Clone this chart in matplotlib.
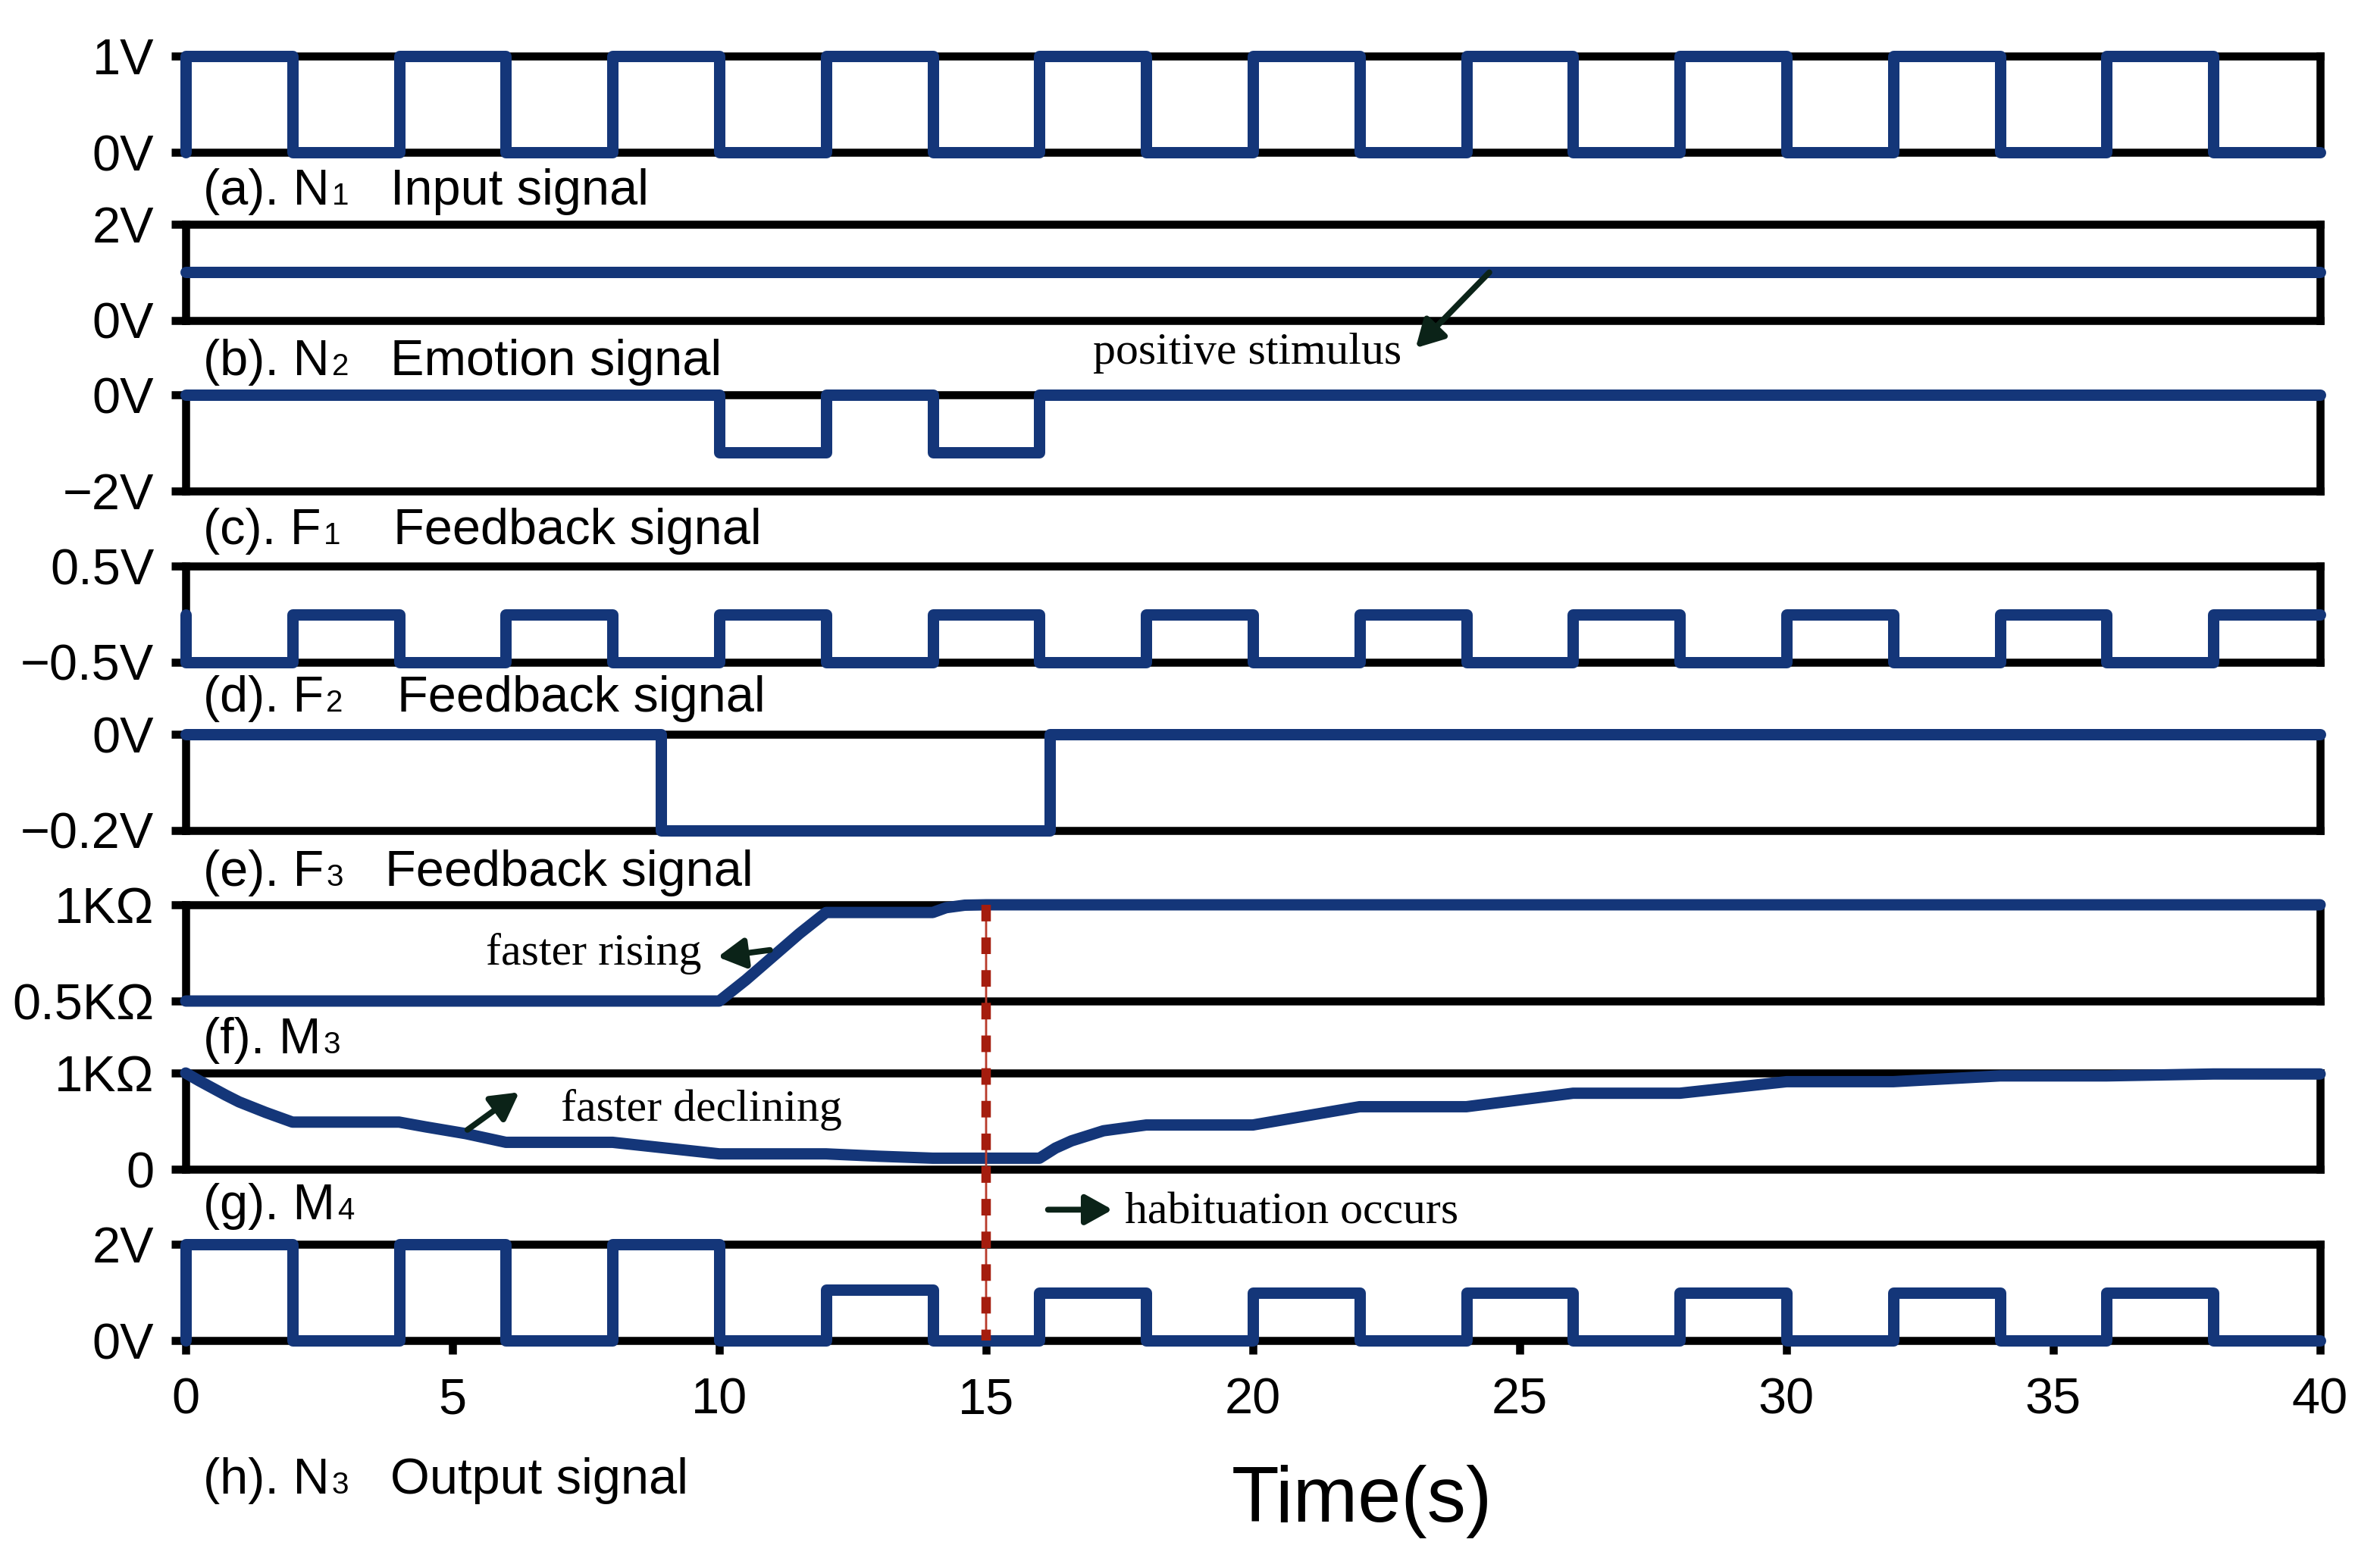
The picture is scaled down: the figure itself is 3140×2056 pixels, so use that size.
import matplotlib
matplotlib.use('Agg')
import matplotlib.pyplot as plt
from matplotlib.patches import ConnectionPatch

plt.rcParams['font.family'] = ['Liberation Sans', 'DejaVu Sans']
SERIF = ['Liberation Serif', 'DejaVu Serif']

# ---- signal data (times in s) ----
# square waves are given as step edges + level after each edge
n1_t = [0, 0, 2, 4, 6, 8, 10, 12, 14, 16, 18, 20, 22, 24, 26, 28, 30, 32, 34, 36, 38, 40]
n1_v = [0, 1, 0, 1, 0, 1, 0, 1, 0, 1, 0, 1, 0, 1, 0, 1, 0, 1, 0, 1, 0, 0]

n2_t = [0, 40]
n2_v = [1, 1]

f1_t = [0, 10, 12, 14, 16, 40]
f1_v = [0, -1.2, 0, -1.2, 0, 0]

f2_t = [0, 0, 2, 4, 6, 8, 10, 12, 14, 16, 18, 20, 22, 24, 26, 28, 30, 32, 34, 36, 38, 40]
f2_v = [0, -0.5, 0, -0.5, 0, -0.5, 0, -0.5, 0, -0.5, 0, -0.5, 0, -0.5, 0, -0.5, 0, -0.5, 0, -0.5, 0, 0]

f3_t = [0, 8.9, 16.2, 40]
f3_v = [0, -0.2, 0, 0]

# memristor resistances (KOhm), smooth curves
m3_t = [0, 10, 10.5, 11, 11.5, 12, 14, 14.25, 14.6, 15, 40]
m3_v = [0.5, 0.5, 0.61, 0.73, 0.85, 0.96, 0.96, 0.985, 0.998, 1.0, 1.0]

m4_t = [0, 0.25, 0.5, 0.75, 1, 1.5, 2, 4, 4.5, 5.25, 6, 8, 9, 10, 12, 13, 14, 16,
        16.3, 16.6, 17.2, 18, 20, 22, 24, 26, 28, 30, 32, 34, 36, 38, 40]
m4_v = [1.0, 0.92, 0.845, 0.77, 0.70, 0.59, 0.49, 0.49, 0.44, 0.37, 0.28, 0.28, 0.22, 0.16, 0.16, 0.135, 0.115, 0.115,
        0.22, 0.295, 0.40, 0.46, 0.46, 0.65, 0.65, 0.79, 0.79, 0.91, 0.91, 0.97, 0.97, 0.99, 0.99]

n3_t = [0, 0, 2, 4, 6, 8, 10, 12, 14, 16, 18, 20, 22, 24, 26, 28, 30, 32, 34, 36, 38, 40]
n3_v = [0, 2, 0, 2, 0, 2, 0, 1.05, 0, 1, 0, 1, 0, 1, 0, 1, 0, 1, 0, 1, 0, 0]

signals = [(n1_t, n1_v, True), (n2_t, n2_v, True), (f1_t, f1_v, True), (f2_t, f2_v, True),
           (f3_t, f3_v, True), (m3_t, m3_v, False), (m4_t, m4_v, False), (n3_t, n3_v, True)]

y_limits = [(0, 1), (0, 2), (-2, 0), (-0.5, 0.5), (-0.2, 0), (0.5, 1), (0, 1), (0, 2)]
y_ticklabels = [['0V', '1V'], ['0V', '2V'], ['\u22122V', '0V'], ['\u22120.5V', '0.5V'],
                ['\u22120.2V', '0V'], ['0.5K\u03a9', '1K\u03a9'], ['0', '1K\u03a9'], ['0V', '2V']]

label_prefix = ['(a). N', '(b). N', '(c). F', '(d). F', '(e). F', '(f). M', '(g). M', '(h). N']
label_sub = ['1', '2', '1', '2', '3', '3', '4', '3']
label_desc = ['Input signal', 'Emotion signal', 'Feedback signal', 'Feedback signal',
              'Feedback signal', '', '', 'Output signal']
x_ticks = [0, 5, 10, 15, 20, 25, 30, 35, 40]

# ---- layout (pixels of the 3140x2056 canvas) ----
W, H = 3140, 2056
panel_top = [74, 296, 521, 747, 969, 1194, 1416, 1642]
panel_h = 127
left_px, right_px = 245, 3061
label_base = [270, 495, 718, 939, 1169, 1390, 1609, 1971]
desc_x = [515, 515, 519, 524, 508, 0, 0, 515]

BLUE = '#143679'
RED = '#a51d0e'
ARROW = '#0b2318'

fig = plt.figure(figsize=(W / 200, H / 200), dpi=200)
fig.patch.set_facecolor('white')

axes = []
for i in range(8):
    ax = fig.add_axes([left_px / W, 1 - (panel_top[i] + panel_h) / H,
                       (right_px - left_px) / W, panel_h / H])
    t, v, stepped = signals[i]
    ax.plot(t, v, color=BLUE, lw=5.4, drawstyle='steps-post' if stepped else 'default',
            solid_capstyle='round', solid_joinstyle='round', clip_on=False, zorder=4)
    ax.set_xlim(0, 40)
    ax.set_ylim(*y_limits[i])
    ax.set_yticks(list(y_limits[i]))
    ax.set_yticklabels(y_ticklabels[i])
    for s in ax.spines.values():
        s.set_linewidth(3.8)
        s.set_color('black')
    ax.tick_params(axis='y', direction='out', length=7, width=3.8, pad=8, labelsize=24)
    if i < 7:
        ax.tick_params(axis='x', bottom=False, labelbottom=False)
    else:
        ax.set_xticks(x_ticks)
        ax.tick_params(axis='x', direction='out', length=6.5, width=3.8, pad=11, labelsize=24)
    axes.append(ax)

ax_b, ax_f, ax_g, ax_h = axes[1], axes[5], axes[6], axes[7]

# panel labels: prefix, small index, description
renderer = fig.canvas.get_renderer()
for i in range(8):
    yb = 1 - label_base[i] / H
    tx = fig.text(268 / W, yb, label_prefix[i], fontsize=24, va='baseline')
    bb = tx.get_window_extent(renderer)
    fig.text((bb.x1 + 3) / W, yb, label_sub[i], fontsize=14.5, va='baseline')
    if label_desc[i]:
        fig.text(desc_x[i] / W, yb, label_desc[i], fontsize=24, va='baseline')

fig.text(1797 / W, 1 - 2008 / H, 'Time(s)', ha='center', va='baseline', fontsize=37)

# habituation marker at t = 15
for lw, ls, col in [(1.0, '-', '#b83a2a'), (4.5, (0, (1.75, 1.7)), RED)]:
    cp = ConnectionPatch(xyA=(15, 1.0), coordsA=ax_f.transData,
                         xyB=(15, 0.0), coordsB=ax_h.transData,
                         color=col, lw=lw, linestyle=ls, zorder=6)
    cp.set_capstyle('butt')
    fig.add_artist(cp)

# annotations
arrow_kw = dict(arrowstyle='-|>,head_length=0.45,head_width=0.25', color=ARROW, lw=2.8,
                mutation_scale=24, shrinkA=0, shrinkB=0)

ax_b.annotate('', xy=(23.05, -0.57), xytext=(24.43, 1.0), arrowprops=arrow_kw,
              annotation_clip=False, zorder=7)
ax_b.text(19.9, -0.90, 'positive stimulus', ha='center', va='baseline',
          fontsize=21.5, family=SERIF, clip_on=False)

ax_f.annotate('', xy=(9.97, 0.729), xytext=(10.95, 0.765), arrowprops=arrow_kw,
              annotation_clip=False, zorder=7)
ax_f.text(5.63, 0.689, 'faster rising', ha='left', va='baseline',
          fontsize=21.5, family=SERIF, clip_on=False)

ax_g.annotate('', xy=(6.25, 0.80), xytext=(5.28, 0.41), arrowprops=arrow_kw,
              annotation_clip=False, zorder=7)
ax_g.text(7.03, 0.504, 'faster declining', ha='left', va='baseline',
          fontsize=21.5, family=SERIF, clip_on=False)

ax_g.annotate('', xy=(17.37, -0.42), xytext=(16.16, -0.42), arrowprops=arrow_kw,
              annotation_clip=False, zorder=7)
ax_g.text(17.6, -0.56, 'habituation occurs', ha='left', va='baseline',
          fontsize=21.5, family=SERIF, clip_on=False)

fig.savefig('out.png', dpi=200)
